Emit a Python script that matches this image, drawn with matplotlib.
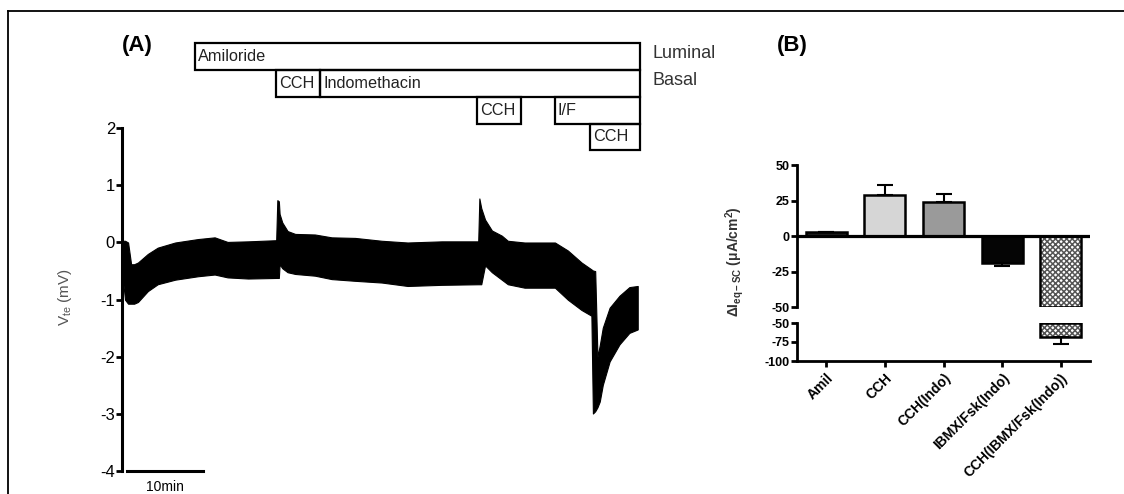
import numpy as np
import matplotlib.pyplot as plt
from matplotlib.patches import Rectangle
from matplotlib.lines import Line2D

plt.rcParams['font.family'] = ['Liberation Sans', 'DejaVu Sans']
plt.rcParams['mathtext.fontset'] = 'custom'
plt.rcParams['mathtext.rm'] = 'Liberation Sans'
plt.rcParams['mathtext.bf'] = 'Liberation Sans:bold'
plt.rcParams['mathtext.it'] = 'Liberation Sans:italic'
plt.rcParams['hatch.linewidth'] = 1.1

# (A) Vte trace, drawn as upper / lower envelope of the oscillating signal
t_min = [0.0, 0.4, 0.8, 1.2, 1.6, 2.1, 3.4, 4.7, 7.0, 10.0, 12.2, 13.9, 16.6, 20.3, 20.45,
         20.65, 20.75, 21.1, 21.8, 22.8, 25.4, 27.6, 30.7, 34.2, 37.6, 42.1, 46.9, 47.05, 47.3, 47.8,
         48.7, 50.0, 50.8, 53.0, 57.0, 58.7, 60.5, 61.8, 62.0, 62.3, 62.6, 62.9, 63.3, 64.2, 65.5,
         66.8, 67.9]
v_upper = [0.03, 0.03, 0.0, -0.38, -0.38, -0.35, -0.2, -0.09, 0.0, 0.06, 0.09, 0.01, 0.02, 0.04, 0.74,
           0.72, 0.5, 0.35, 0.2, 0.15, 0.14, 0.09, 0.08, 0.03, 0.0, 0.02, 0.02, 0.77, 0.6, 0.4,
           0.21, 0.12, 0.03, 0.0, 0.0, -0.14, -0.35, -0.47, -0.49, -0.5, -2.0, -1.8, -1.49, -1.14, -0.93,
           -0.78, -0.76]
v_lower = [-0.5, -1.0, -1.07, -1.07, -1.07, -1.04, -0.85, -0.73, -0.65, -0.59, -0.56, -0.61, -0.63, -0.62, -0.62,
           -0.62, -0.38, -0.45, -0.52, -0.55, -0.58, -0.64, -0.67, -0.70, -0.76, -0.74, -0.73, -0.73, -0.73, -0.4,
           -0.52, -0.65, -0.73, -0.79, -0.79, -1.0, -1.18, -1.28, -2.99, -2.95, -2.88, -2.78, -2.49, -2.08, -1.78,
           -1.58, -1.52]

# drug applications (min)
drug_names = ['Amiloride', 'CCH', 'Indomethacin', 'CCH', 'I/F', 'CCH']
drug_start = [9.6, 20.3, 26.1, 46.7, 57.0, 61.6]
drug_end = [68.2, 26.1, 68.2, 52.5, 68.2, 68.2]
drug_row = [0, 1, 1, 2, 2, 3]
side_labels = ['Luminal', 'Basal']

# (B) change in equivalent short circuit current
groups = ['Amil', 'CCH', 'CCH(Indo)', 'IBMX/Fsk(Indo)', 'CCH(IBMX/Fsk(Indo))']
d_isc = np.array([2.5, 29.0, 24.0, -19.0, -69.0])
d_sem = np.array([0.6, 7.0, 5.5, 2.3, 8.5])
bar_colors = ['#1e1e1e', '#d6d6d6', '#9a9a9a', '#050505', 'white']
bar_hatch = [None, None, None, None, 'xxxxxx']
y_break = -50

W, H = 1124, 494
fig = plt.figure(figsize=(W / 100, H / 100), dpi=100)

# frame lines round the figure
fig.add_artist(Line2D([8 / W, 1.0], [1 - 11 / H, 1 - 11 / H], color='k', lw=1.3))
fig.add_artist(Line2D([8 / W, 8 / W], [0, 1 - 11 / H], color='k', lw=1.3))

# ---- panel A ----
axA = fig.add_axes([122 / W, 1 - 471.3 / H, 518 / W, (471.3 - 128.1) / H])
axA.fill_between(t_min, v_lower, v_upper, color='k', lw=0.8)
axA.set_xlim(0, 68.2)
axA.set_ylim(-4, 2)
for s in ['top', 'right', 'bottom']:
    axA.spines[s].set_visible(False)
axA.spines['left'].set_linewidth(2.2)
axA.set_xticks([])
axA.set_yticks(range(-4, 3))
axA.set_yticklabels(['-4', '-3', '-2', '-1', '0', '1', '2'])
axA.tick_params(axis='y', length=4, width=2, labelsize=12, pad=1)

# 10 min scale bar
axA.plot([0.7, 10.7], [-4, -4], color='k', lw=2.2, clip_on=False)
axA.text(5.7, -4.15, '10min', ha='center', va='top', fontsize=10)

fig.text(65 / W, 1 - 297 / H, 'V$_{\\mathregular{te}}$ (mV)', rotation=90, ha='center', va='center',
         fontsize=11, color='#555555')

# drug boxes above the trace
row_top, row_h = 3.49, 0.47
for name, a, b, r in zip(drug_names, drug_start, drug_end, drug_row):
    y0 = row_top - row_h * (r + 1)
    axA.add_patch(Rectangle((a, y0), b - a, row_h, fill=False, ec='k', lw=1.6, clip_on=False))
    axA.text(a + 0.4, y0 + row_h / 2, name, ha='left', va='center', fontsize=11.7, color='#222222')
for i, lab in enumerate(side_labels):
    axA.text(69.8, row_top - row_h * (i + 0.5) + 0.05, lab, ha='left', va='center', fontsize=13,
             color='#333333', clip_on=False)

fig.text(137 / W, 1 - 45 / H, '(A)', ha='center', va='center', fontsize=16, fontweight='bold')
fig.text(792 / W, 1 - 45 / H, '(B)', ha='center', va='center', fontsize=16, fontweight='bold')

# ---- panel B (broken y axis) ----
x = np.arange(len(groups))
axB = fig.add_axes([797 / W, 1 - 307 / H, 293 / W, 142 / H])
axL = fig.add_axes([797 / W, 1 - 361 / H, 293 / W, 38 / H])

top_part = np.maximum(d_isc, y_break)
axB.bar(x, top_part, width=0.7, color=bar_colors, hatch=bar_hatch, edgecolor='#555555', lw=0)
axB.bar(x, top_part, width=0.7, fill=False, edgecolor='k', lw=1.8)
low = d_isc < y_break
axL.bar(x[low], d_isc[low] - y_break, bottom=y_break, width=0.7, color=np.array(bar_colors)[low],
        hatch='xxxxxx', edgecolor='#555555', lw=0)
axL.bar(x[low], d_isc[low] - y_break, bottom=y_break, width=0.7, fill=False, edgecolor='k', lw=1.8)

for ax, sel in [(axB, ~low), (axL, low)]:
    v, e = d_isc[sel], d_sem[sel]
    yerr = [np.where(v < 0, e, 0), np.where(v > 0, e, 0)]
    ax.errorbar(x[sel], v, yerr=yerr, fmt='none', ecolor='k', elinewidth=1.5, capsize=6, capthick=1.5)

axB.axhline(0, color='k', lw=2.3, zorder=4)
axB.set_xlim(-0.5, len(groups) - 0.5)
axL.set_xlim(-0.5, len(groups) - 0.5)
axB.set_ylim(y_break, 50)
axL.set_ylim(-100, y_break)
for s in ['top', 'right', 'bottom']:
    axB.spines[s].set_visible(False)
for s in ['top', 'right']:
    axL.spines[s].set_visible(False)
axB.spines['left'].set_linewidth(2)
axL.spines['left'].set_linewidth(2)
axL.spines['bottom'].set_linewidth(2)
axB.set_xticks([])
axB.set_yticks([50, 25, 0, -25, -50])
axB.set_yticklabels(['50', '25', '0', '-25', '-50'])
axL.set_yticks([-50, -75, -100])
axL.set_yticklabels(['-50', '-75', '-100'])
axL.set_xticks(x)
axL.set_xticklabels(groups, rotation=45, ha='right', rotation_mode='anchor', fontweight='bold', fontsize=10)
for ax in (axB, axL):
    ax.tick_params(axis='both', length=4, width=2, pad=1.5)
    ax.tick_params(axis='y', labelsize=9)
    for lab in ax.get_yticklabels():
        lab.set_fontweight('bold')
axL.tick_params(axis='x', pad=3)

fig.text(735 / W, 1 - 262 / H, 'ΔI$_{\\mathbf{eq-SC}}$ (μA/cm$^{\\mathbf{2}}$)', rotation=90,
         ha='center', va='center', fontsize=10, fontweight='bold', color='#333333')

fig.savefig('out.png', dpi=100)
